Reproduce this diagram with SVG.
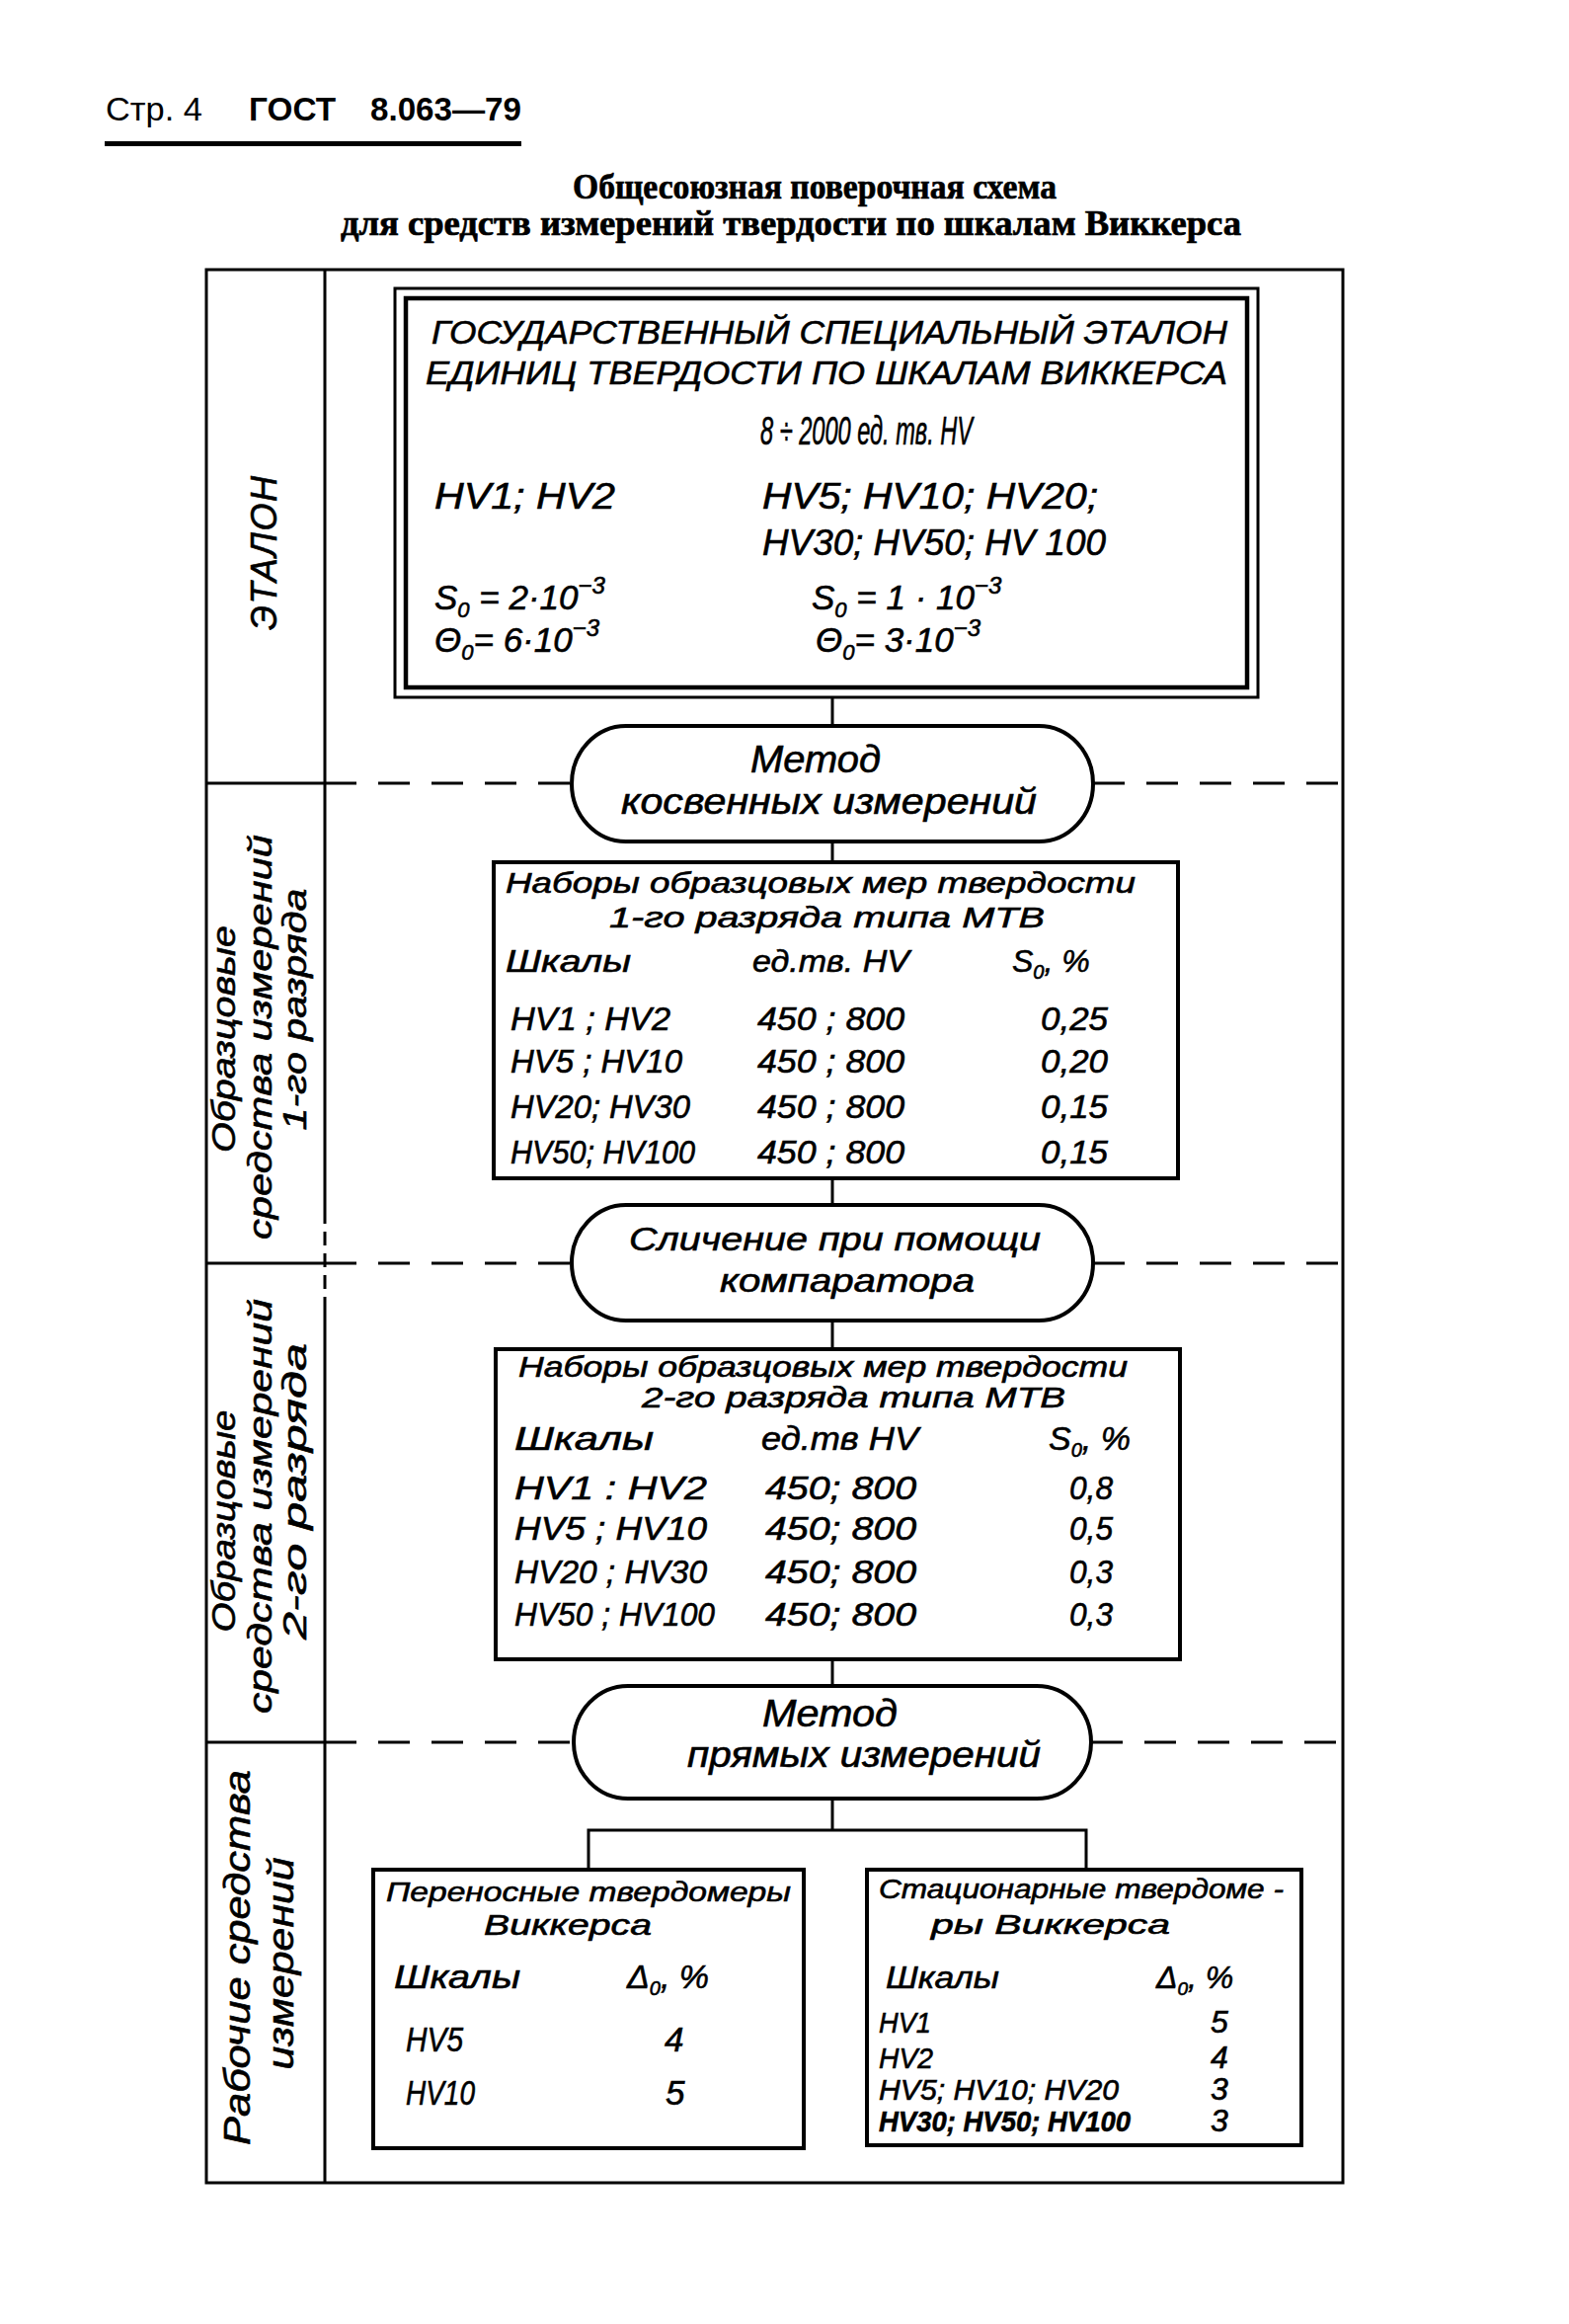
<svg xmlns="http://www.w3.org/2000/svg" width="1589" height="2353" viewBox="0 0 1589 2353">
<style>
.t{font-family:"Liberation Sans","DejaVu Sans",sans-serif;font-style:italic;fill:#000;stroke:#000;stroke-width:0.6}
.hd{font-family:"Liberation Sans","DejaVu Sans",sans-serif;fill:#000}
.ti{font-family:"Liberation Serif","DejaVu Serif",serif;font-weight:bold;fill:#000;stroke:#000;stroke-width:0.7}
.box{fill:#fff;stroke:#000;stroke-width:4}
.oval{fill:#fff;stroke:#000;stroke-width:4}
.ln{stroke:#000;stroke-width:3;fill:none}
.dash{stroke:#000;stroke-width:3;stroke-dasharray:32 22;fill:none}
</style>
<rect x="0" y="0" width="1589" height="2353" fill="#fff"/>

<g id="header">
<text class="hd" x="107" y="122" font-size="34" textLength="98" lengthAdjust="spacingAndGlyphs">Стр. 4</text>
<text class="hd" x="252" y="122" font-size="34" font-weight="bold" textLength="88" lengthAdjust="spacingAndGlyphs">ГОСТ</text>
<text class="hd" x="375" y="122" font-size="34" font-weight="bold" textLength="153" lengthAdjust="spacingAndGlyphs">8.063—79</text>
<rect x="106" y="143" width="422" height="5" fill="#000"/>
<text class="ti" x="580" y="201" font-size="36" textLength="490" lengthAdjust="spacingAndGlyphs">Общесоюзная поверочная схема</text>
<text class="ti" x="345" y="238" font-size="36" textLength="912" lengthAdjust="spacingAndGlyphs">для средств измерений твердости по шкалам Виккерса</text>
</g>

<g id="frame">
<rect x="209" y="273" width="1151" height="1937" class="ln"/>
<line x1="329" y1="273" x2="329" y2="1225" class="ln"/>
<line x1="329" y1="1225" x2="329" y2="1322" stroke="#000" stroke-width="3" stroke-dasharray="14 8"/>
<line x1="329" y1="1322" x2="329" y2="2210" class="ln"/>
<line x1="209" y1="793" x2="329" y2="793" class="ln"/>
<line x1="209" y1="1279" x2="329" y2="1279" class="ln"/>
<line x1="209" y1="1764" x2="329" y2="1764" class="ln"/>
</g>

<g id="levels">
<text class="t" x="280" y="560" font-size="36" text-anchor="middle" textLength="156" lengthAdjust="spacing" transform="rotate(-90 280 560)">ЭТАЛОН</text>
<text class="t" x="238" y="1052" font-size="34" text-anchor="middle" textLength="230" lengthAdjust="spacingAndGlyphs" transform="rotate(-90 238 1052)">Образцовые</text>
<text class="t" x="275" y="1050" font-size="34" text-anchor="middle" textLength="410" lengthAdjust="spacingAndGlyphs" transform="rotate(-90 275 1050)">средства  измерений</text>
<text class="t" x="310" y="1022" font-size="34" text-anchor="middle" textLength="245" lengthAdjust="spacingAndGlyphs" transform="rotate(-90 310 1022)">1-го разряда</text>
<text class="t" x="238" y="1540" font-size="34" text-anchor="middle" textLength="225" lengthAdjust="spacingAndGlyphs" transform="rotate(-90 238 1540)">Образцовые</text>
<text class="t" x="275" y="1525" font-size="34" text-anchor="middle" textLength="420" lengthAdjust="spacingAndGlyphs" transform="rotate(-90 275 1525)">средства  измерений</text>
<text class="t" x="310" y="1510" font-size="34" text-anchor="middle" textLength="300" lengthAdjust="spacingAndGlyphs" transform="rotate(-90 310 1510)">2-го разряда</text>
<text class="t" x="253" y="1982" font-size="36" text-anchor="middle" textLength="380" lengthAdjust="spacingAndGlyphs" transform="rotate(-90 253 1982)">Рабочие  средства</text>
<text class="t" x="297" y="1988" font-size="36" text-anchor="middle" textLength="215" lengthAdjust="spacingAndGlyphs" transform="rotate(-90 297 1988)">измерений</text>
</g>

<g id="connectors">
<line x1="329" y1="793" x2="579" y2="793" class="dash"/>
<line x1="1107" y1="793" x2="1360" y2="793" class="dash"/>
<line x1="329" y1="1279" x2="579" y2="1279" class="dash"/>
<line x1="1107" y1="1279" x2="1360" y2="1279" class="dash"/>
<line x1="329" y1="1764" x2="581" y2="1764" class="dash"/>
<line x1="1105" y1="1764" x2="1360" y2="1764" class="dash"/>
<line x1="843" y1="706" x2="843" y2="735" class="ln"/>
<line x1="843" y1="852" x2="843" y2="873" class="ln"/>
<line x1="843" y1="1193" x2="843" y2="1220" class="ln"/>
<line x1="843" y1="1337" x2="843" y2="1366" class="ln"/>
<line x1="843" y1="1680" x2="843" y2="1707" class="ln"/>
<line x1="843" y1="1821" x2="843" y2="1853" class="ln"/>
<polyline points="596,1893 596,1853 1100,1853 1100,1893" class="ln"/>
</g>

<g id="etalon">
<rect x="400" y="292" width="874" height="414" fill="#fff" stroke="#000" stroke-width="3"/>
<rect x="411" y="302" width="852" height="394" fill="#fff" stroke="#000" stroke-width="4.5"/>
<text class="t" x="437" y="348" font-size="34" textLength="806" lengthAdjust="spacingAndGlyphs">ГОСУДАРСТВЕННЫЙ СПЕЦИАЛЬНЫЙ ЭТАЛОН</text>
<text class="t" x="431" y="389" font-size="34" textLength="812" lengthAdjust="spacingAndGlyphs">ЕДИНИЦ ТВЕРДОСТИ ПО ШКАЛАМ ВИККЕРСА</text>
<text class="t" x="770" y="450" font-size="40" textLength="215" lengthAdjust="spacingAndGlyphs">8 ÷ 2000 ед. тв. HV</text>
<text class="t" x="440" y="515" font-size="36" textLength="183" lengthAdjust="spacingAndGlyphs">HV1; HV2</text>
<text class="t" x="772" y="515" font-size="36" textLength="340" lengthAdjust="spacingAndGlyphs">HV5; HV10;  HV20;</text>
<text class="t" x="772" y="562" font-size="36" textLength="348" lengthAdjust="spacingAndGlyphs">HV30; HV50; HV 100</text>
<text class="t" x="440" y="617" font-size="35">S<tspan dy="8" font-size="22">0</tspan><tspan dy="-8"> = 2·10</tspan><tspan dy="-16" font-size="24">−3</tspan></text>
<text class="t" x="822" y="617" font-size="35">S<tspan dy="8" font-size="22">0</tspan><tspan dy="-8"> = 1 · 10</tspan><tspan dy="-16" font-size="24">−3</tspan></text>
<text class="t" x="440" y="660" font-size="35">Θ<tspan dy="8" font-size="22">0</tspan><tspan dy="-8">= 6·10</tspan><tspan dy="-16" font-size="24">−3</tspan></text>
<text class="t" x="826" y="660" font-size="35">Θ<tspan dy="8" font-size="22">0</tspan><tspan dy="-8">= 3·10</tspan><tspan dy="-16" font-size="24">−3</tspan></text>
</g>

<g id="method1">
<path class="oval" d="M634,735 H1052 A55,58.5 0 0 1 1052,852 H634 A55,58.5 0 0 1 634,735 Z"/>
<text class="t" x="760" y="782" font-size="38" textLength="132" lengthAdjust="spacingAndGlyphs">Метод</text>
<text class="t" x="629" y="824" font-size="36" textLength="421" lengthAdjust="spacingAndGlyphs">косвенных  измерений</text>
</g>

<g id="set1">
<rect class="box" x="500" y="873" width="693" height="320"/>
<text class="t" x="512" y="904" font-size="30" textLength="638" lengthAdjust="spacingAndGlyphs">Наборы образцовых мер твердости</text>
<text class="t" x="617" y="939" font-size="30" textLength="441" lengthAdjust="spacingAndGlyphs">1-го разряда типа МТВ</text>
<text class="t" x="512" y="984" font-size="32" textLength="127" lengthAdjust="spacingAndGlyphs">Шкалы</text>
<text class="t" x="762" y="984" font-size="32" textLength="159" lengthAdjust="spacingAndGlyphs">ед.тв. HV</text>
<text class="t" x="1025" y="984" font-size="32">S<tspan dy="7" font-size="20">0</tspan><tspan dy="-7">, %</tspan></text>
<text class="t" x="517" y="1043" font-size="34" textLength="162" lengthAdjust="spacingAndGlyphs">HV1 ; HV2</text>
<text class="t" x="517" y="1086" font-size="34" textLength="174" lengthAdjust="spacingAndGlyphs">HV5 ; HV10</text>
<text class="t" x="517" y="1132" font-size="34" textLength="182" lengthAdjust="spacingAndGlyphs">HV20; HV30</text>
<text class="t" x="517" y="1178" font-size="34" textLength="187" lengthAdjust="spacingAndGlyphs">HV50; HV100</text>
<text class="t" x="767" y="1043" font-size="34" textLength="149" lengthAdjust="spacingAndGlyphs">450 ; 800</text>
<text class="t" x="767" y="1086" font-size="34" textLength="149" lengthAdjust="spacingAndGlyphs">450 ; 800</text>
<text class="t" x="767" y="1132" font-size="34" textLength="149" lengthAdjust="spacingAndGlyphs">450 ; 800</text>
<text class="t" x="767" y="1178" font-size="34" textLength="149" lengthAdjust="spacingAndGlyphs">450 ; 800</text>
<text class="t" x="1054" y="1043" font-size="34" textLength="68" lengthAdjust="spacingAndGlyphs">0,25</text>
<text class="t" x="1054" y="1086" font-size="34" textLength="68" lengthAdjust="spacingAndGlyphs">0,20</text>
<text class="t" x="1054" y="1132" font-size="34" textLength="68" lengthAdjust="spacingAndGlyphs">0,15</text>
<text class="t" x="1054" y="1178" font-size="34" textLength="68" lengthAdjust="spacingAndGlyphs">0,15</text>
</g>

<g id="comparison">
<path class="oval" d="M634,1220 H1052 A55,58.5 0 0 1 1052,1337 H634 A55,58.5 0 0 1 634,1220 Z"/>
<text class="t" x="637" y="1266" font-size="34" textLength="417" lengthAdjust="spacingAndGlyphs">Сличение  при  помощи</text>
<text class="t" x="729" y="1308" font-size="34" textLength="258" lengthAdjust="spacingAndGlyphs">компаратора</text>
</g>

<g id="set2">
<rect class="box" x="502" y="1366" width="693" height="314"/>
<text class="t" x="525" y="1394" font-size="29" textLength="617" lengthAdjust="spacingAndGlyphs">Наборы образцовых мер твердости</text>
<text class="t" x="650" y="1425" font-size="29" textLength="429" lengthAdjust="spacingAndGlyphs">2-го разряда типа МТВ</text>
<text class="t" x="521" y="1468" font-size="34" textLength="141" lengthAdjust="spacingAndGlyphs">Шкалы</text>
<text class="t" x="771" y="1468" font-size="34" textLength="159" lengthAdjust="spacingAndGlyphs">ед.тв HV</text>
<text class="t" x="1062" y="1468" font-size="34">S<tspan dy="7" font-size="20">0</tspan><tspan dy="-7">, %</tspan></text>
<text class="t" x="521" y="1518" font-size="34" textLength="195" lengthAdjust="spacingAndGlyphs">HV1  : HV2</text>
<text class="t" x="521" y="1559" font-size="34" textLength="195" lengthAdjust="spacingAndGlyphs">HV5  ; HV10</text>
<text class="t" x="521" y="1603" font-size="34" textLength="195" lengthAdjust="spacingAndGlyphs">HV20 ; HV30</text>
<text class="t" x="521" y="1646" font-size="34" textLength="203" lengthAdjust="spacingAndGlyphs">HV50 ; HV100</text>
<text class="t" x="775" y="1518" font-size="34" textLength="153" lengthAdjust="spacingAndGlyphs">450;  800</text>
<text class="t" x="775" y="1559" font-size="34" textLength="153" lengthAdjust="spacingAndGlyphs">450;  800</text>
<text class="t" x="775" y="1603" font-size="34" textLength="153" lengthAdjust="spacingAndGlyphs">450;  800</text>
<text class="t" x="775" y="1646" font-size="34" textLength="153" lengthAdjust="spacingAndGlyphs">450;  800</text>
<text class="t" x="1083" y="1518" font-size="34" textLength="44" lengthAdjust="spacingAndGlyphs">0,8</text>
<text class="t" x="1083" y="1559" font-size="34" textLength="44" lengthAdjust="spacingAndGlyphs">0,5</text>
<text class="t" x="1083" y="1603" font-size="34" textLength="44" lengthAdjust="spacingAndGlyphs">0,3</text>
<text class="t" x="1083" y="1646" font-size="34" textLength="44" lengthAdjust="spacingAndGlyphs">0,3</text>
</g>

<g id="method2">
<path class="oval" d="M636,1707 H1050 A55,57 0 0 1 1050,1821 H636 A55,57 0 0 1 636,1707 Z"/>
<text class="t" x="772" y="1748" font-size="38" textLength="137" lengthAdjust="spacingAndGlyphs">Метод</text>
<text class="t" x="696" y="1789" font-size="36" textLength="358" lengthAdjust="spacingAndGlyphs">прямых измерений</text>
</g>

<g id="portable">
<rect class="box" x="378" y="1893" width="436" height="282"/>
<text class="t" x="391" y="1925" font-size="28" textLength="410" lengthAdjust="spacingAndGlyphs">Переносные твердомеры</text>
<text class="t" x="490" y="1959" font-size="29" textLength="170" lengthAdjust="spacingAndGlyphs">Виккерса</text>
<text class="t" x="399" y="2013" font-size="34" textLength="128" lengthAdjust="spacingAndGlyphs">Шкалы</text>
<text class="t" x="635" y="2013" font-size="34">Δ<tspan dy="7" font-size="20">0</tspan><tspan dy="-7">, %</tspan></text>
<text class="t" x="411" y="2077" font-size="35" textLength="58" lengthAdjust="spacingAndGlyphs">HV5</text>
<text class="t" x="673" y="2077" font-size="35">4</text>
<text class="t" x="411" y="2131" font-size="35" textLength="70" lengthAdjust="spacingAndGlyphs">HV10</text>
<text class="t" x="674" y="2131" font-size="35">5</text>
</g>

<g id="stationary">
<rect class="box" x="878" y="1893" width="440" height="279"/>
<text class="t" x="890" y="1922" font-size="28" textLength="410" lengthAdjust="spacingAndGlyphs">Стационарные твердоме -</text>
<text class="t" x="943" y="1958" font-size="28" textLength="242" lengthAdjust="spacingAndGlyphs">ры  Виккерса</text>
<text class="t" x="897" y="2013" font-size="32" textLength="115" lengthAdjust="spacingAndGlyphs">Шкалы</text>
<text class="t" x="1171" y="2013" font-size="32">Δ<tspan dy="7" font-size="19">0</tspan><tspan dy="-7">, %</tspan></text>
<text class="t" x="890" y="2058" font-size="30" textLength="53" lengthAdjust="spacingAndGlyphs">HV1</text>
<text class="t" x="890" y="2094" font-size="30" textLength="55" lengthAdjust="spacingAndGlyphs">HV2</text>
<text class="t" x="890" y="2126" font-size="30" textLength="243" lengthAdjust="spacingAndGlyphs">HV5; HV10; HV20</text>
<text class="t" x="890" y="2158" font-size="30" font-weight="bold" textLength="255" lengthAdjust="spacingAndGlyphs">HV30; HV50; HV100</text>
<text class="t" x="1226" y="2058" font-size="32">5</text>
<text class="t" x="1226" y="2094" font-size="32">4</text>
<text class="t" x="1226" y="2126" font-size="32">3</text>
<text class="t" x="1226" y="2158" font-size="32">3</text>
</g>
</svg>
